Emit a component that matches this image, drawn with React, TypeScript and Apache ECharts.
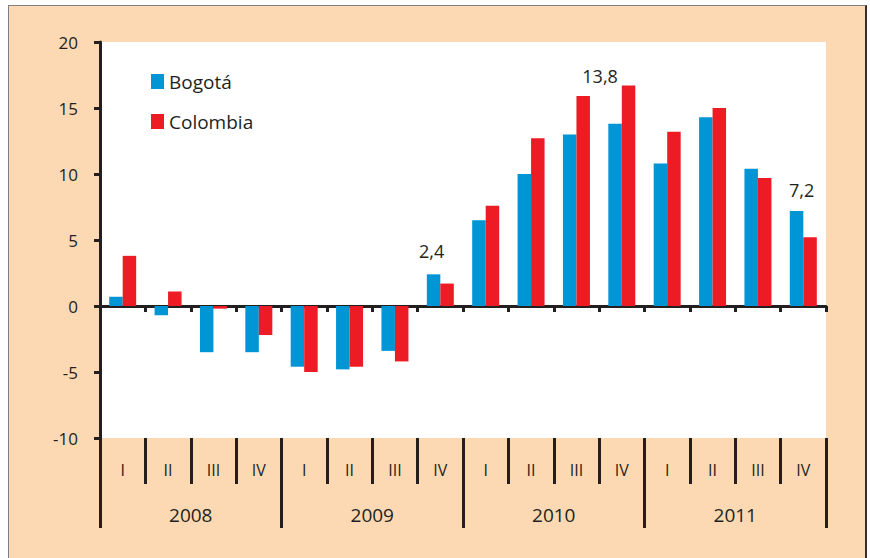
import React, { useEffect, useRef } from "react";
import * as echarts from "echarts";

// ---- data ----
const quarters = ["I", "II", "III", "IV", "I", "II", "III", "IV", "I", "II", "III", "IV", "I", "II", "III", "IV"];
const years = ["2008", "2009", "2010", "2011"];
const bogota = [0.7, -0.7, -3.5, -3.5, -4.6, -4.8, -3.4, 2.4, 6.5, 10.0, 13.0, 13.8, 10.8, 14.3, 10.4, 7.2];
const colombia = [3.8, 1.1, -0.2, -2.2, -5.0, -4.6, -4.2, 1.7, 7.6, 12.7, 15.9, 16.7, 13.2, 15.0, 9.7, 5.2];
const labelledPoints = [7, 11, 15];
const yTicks = { min: -10, max: 20, step: 5 };

const FONT = "'Open Sans', 'Noto Sans', sans-serif";
const INK = "#231f20";
const BLUE = "#0096d6";
const RED = "#ed1c24";
const PEACH = "#fcd9b2";

const labelOffsets: Record<number, [number, number]> = {
  7: [-2, -9],
  11: [-15, -34],
  15: [5, -7],
};

export default function App() {
  const ref = useRef<HTMLDivElement>(null);

  useEffect(() => {
    if (!ref.current) return;
    const chart = echarts.init(ref.current, undefined, { renderer: "svg" });

    const bogotaData = bogota.map((v, i) =>
      labelledPoints.includes(i)
        ? {
            value: v,
            label: {
              show: true,
              position: "top",
              offset: labelOffsets[i] || [0, 0],
              formatter: (p: any) => String(p.value.toFixed(1)).replace(".", ","),
              fontSize: 18,
              fontFamily: FONT,
              color: INK,
            },
          }
        : v
    );

    chart.setOption({
      animation: false,
      backgroundColor: "transparent",
      textStyle: { fontFamily: FONT, color: INK },
      grid: {
        left: 100,
        right: 44,
        top: 42,
        bottom: 120,
        show: true,
        backgroundColor: "#ffffff",
        borderWidth: 0,
        containLabel: false,
      },
      legend: {
        data: ["Bogotá", "Colombia"],
        orient: "vertical",
        left: 151,
        top: 72,
        padding: 0,
        itemWidth: 13,
        itemHeight: 15,
        itemGap: 21,
        icon: "rect",
        textStyle: { fontSize: 19, color: INK, fontFamily: FONT, lineHeight: 17 },
      },
      xAxis: [
        {
          type: "category",
          data: quarters,
          position: "bottom",
          axisLine: { show: true, onZero: true, lineStyle: { color: INK, width: 3 } },
          axisTick: { show: true, interval: 0, length: 6, lineStyle: { color: INK, width: 3 } },
          axisLabel: { show: false },
          splitLine: { show: false },
        },
        {
          type: "category",
          data: quarters,
          position: "bottom",
          axisLine: { show: false, onZero: false },
          axisTick: { show: true, interval: 0, length: 46, lineStyle: { color: INK, width: 3 } },
          axisLabel: { show: true, interval: 0, margin: 24, fontSize: 16, color: INK, fontFamily: FONT },
          splitLine: { show: false },
        },
        {
          type: "category",
          data: years,
          position: "bottom",
          axisLine: { show: false, onZero: false },
          axisTick: { show: true, interval: 0, length: 90, lineStyle: { color: INK, width: 3 } },
          axisLabel: { show: true, interval: 0, margin: 67, fontSize: 19, color: INK, fontFamily: FONT },
          splitLine: { show: false },
        },
      ],
      yAxis: {
        type: "value",
        min: yTicks.min,
        max: yTicks.max,
        interval: yTicks.step,
        axisLine: { show: true, onZero: false, lineStyle: { color: INK, width: 3 } },
        axisTick: { show: true, length: 6, lineStyle: { color: INK, width: 3 } },
        axisLabel: { margin: 22, fontSize: 17, color: INK, fontFamily: FONT },
        splitLine: { show: false },
      },
      series: [
        {
          name: "Bogotá",
          type: "bar",
          xAxisIndex: 0,
          data: bogotaData,
          barWidth: 13.5,
          barGap: "0%",
          itemStyle: { color: BLUE },
        },
        {
          name: "Colombia",
          type: "bar",
          xAxisIndex: 0,
          data: colombia,
          barWidth: 13.5,
          barGap: "0%",
          itemStyle: { color: RED },
        },
      ],
    });

    return () => chart.dispose();
  }, []);

  return (
    <div style={{ position: "fixed", left: 0, top: 0, width: 870, height: 558, background: "#ffffff", overflow: "hidden" }}>
      <div
        style={{
          position: "absolute",
          left: 8,
          top: 5,
          width: 859,
          height: 560,
          background: PEACH,
          borderTop: "1.5px solid #808080",
          borderLeft: "1.5px solid #808080",
          borderRight: "2px solid #3a2e28",
          boxSizing: "border-box",
        }}
      />
      <div ref={ref} style={{ position: "absolute", left: 0, top: 0, width: 870, height: 558 }} />
    </div>
  );
}
